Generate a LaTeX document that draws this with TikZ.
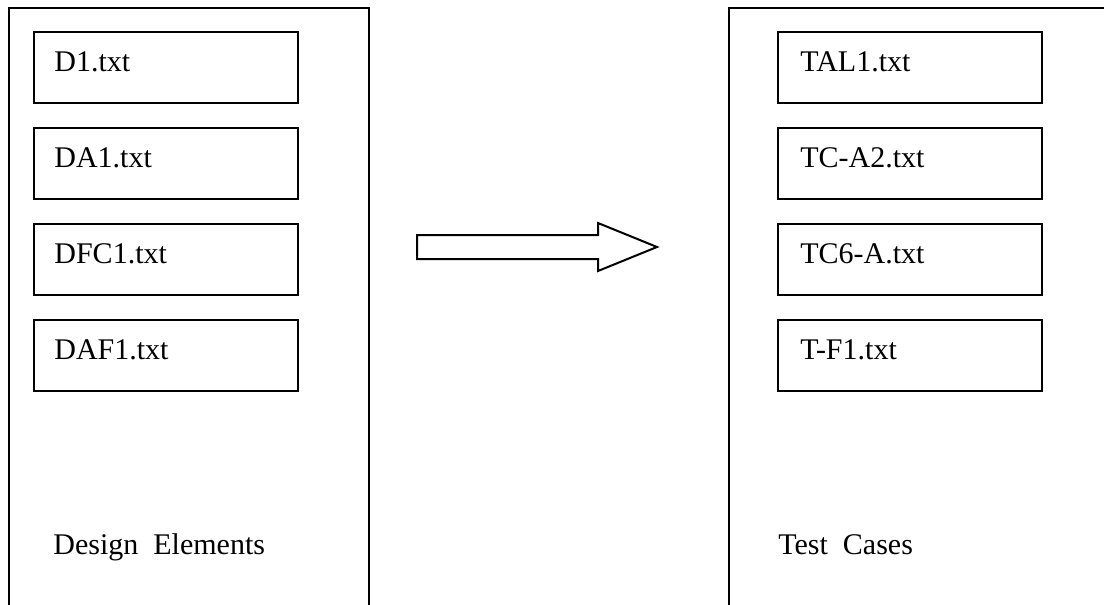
\documentclass[tikz,border=0pt]{standalone}
\usepackage{fontspec}
\setmainfont{Liberation Serif}
\begin{document}
\begin{tikzpicture}[x=0.5pt,y=-0.5pt,
  frame/.style={line width=1pt},
  filebox/.style={draw,line width=1pt,minimum width=132pt,minimum height=35.5pt,anchor=north west,inner sep=0pt},
  filetext/.style={anchor=base west,inner sep=0pt,font=\fontsize{15pt}{18pt}\selectfont},
  captext/.style={anchor=base west,inner sep=0pt,font=\fontsize{15pt}{18pt}\selectfont}]
\useasboundingbox (0,0) rectangle (1104,605);
% outer containers (open at bottom)
\draw[frame] (9,605) -- (9,8) -- (369,8) -- (369,605);
\draw[frame] (729,605) -- (729,8) -- (1104,8);
% left files
\foreach \n/\t/\y in {d1/D1.txt/31, da1/DA1.txt/127, dfc1/DFC1.txt/223, daf1/DAF1.txt/319}{
  \node[filebox] (\n) at (33,\y) {};
  \node[filetext] (\n t) at ([xshift=10.5pt,yshift=-20pt]\n.north west) {\t};
}
% right files
\foreach \n/\t/\y in {tal1/TAL1.txt/31, tca2/TC-A2.txt/127, tc6a/TC6-A.txt/223, tf1/T-F1.txt/319}{
  \node[filebox] (\n) at (777,\y) {};
  \node[filetext] (\n t) at ([xshift=11.5pt,yshift=-20pt]\n.north west) {\t};
}
\node[captext] (de) at (53,554) {Design\ \ Elements};
\node[captext] (tc) at (778,554) {Test\ \ Cases};
% block arrow
\draw[line width=1pt,line join=miter] (417,235) -- (598,235) -- (598,223) -- (657,247) -- (598,271) -- (598,259) -- (417,259) -- cycle;
\end{tikzpicture}
\end{document}
